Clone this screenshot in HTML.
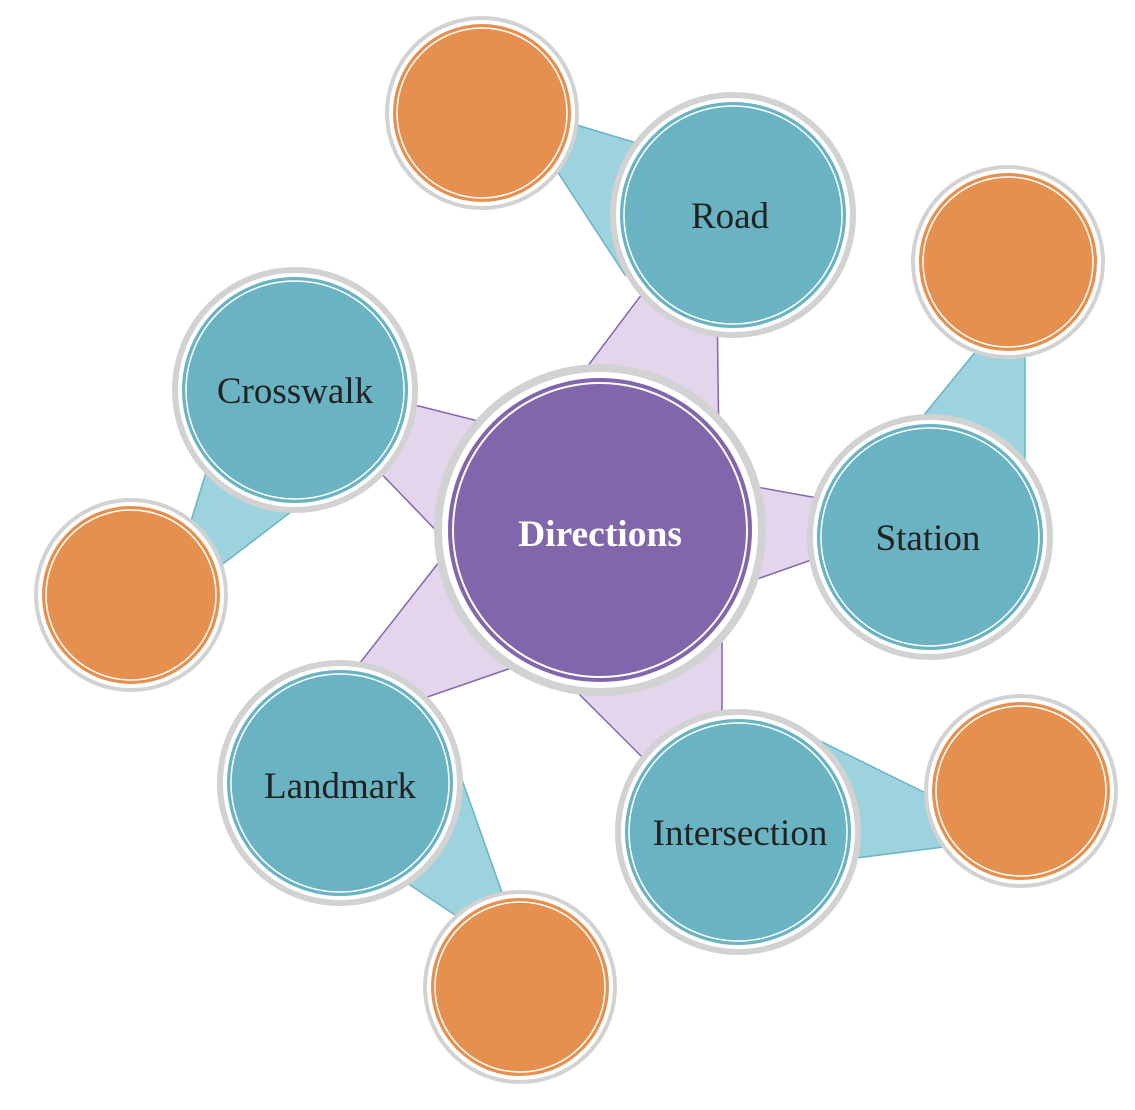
<!DOCTYPE html>
<html><head><meta charset="utf-8"><style>html,body{margin:0;padding:0;background:#fff;}svg{display:block}</style></head><body>
<svg width="1135" height="1110" viewBox="0 0 1135 1110" xmlns="http://www.w3.org/2000/svg">
<g fill="#e2d5ec" stroke="#8466ab" stroke-width="1.5">
<polygon points="660,270 717,300 719,450 560,403"/>
<polygon points="395,400 490,424 450,545 370,462"/>
<polygon points="740,484 840,502 840,550 740,585"/>
<polygon points="570,685 722,630 722,740 660,775"/>
<polygon points="345,682 450,548 520,665 410,703"/>
</g>
<g fill="#9dd3de" stroke="#69b3c2" stroke-width="1.5">
<polygon points="560,120 660,150 625,275 540,145"/>
<polygon points="915,426 985,340 1025,340 1025,480"/>
<polygon points="808,735 960,810 960,845 840,860"/>
<polygon points="455,760 510,915 470,925 395,875"/>
<polygon points="210,460 300,505 215,570 185,540"/>
</g>
<g>
<circle cx="600" cy="530" r="162" fill="#fff" stroke="#d2d2d2" stroke-width="8"/>
<circle cx="600" cy="530" r="152" fill="#8266ab"/>
<circle cx="600" cy="530" r="147" fill="none" stroke="#fff" stroke-width="2"/>
</g>
<g>
<g><circle cx="733" cy="215" r="120" fill="#fff" stroke="#d2d2d2" stroke-width="6"/><circle cx="733" cy="215" r="113" fill="#69b3c2"/><circle cx="733" cy="215" r="109" fill="none" stroke="#fff" stroke-width="1.5"/></g>
<g><circle cx="930" cy="537" r="120" fill="#fff" stroke="#d2d2d2" stroke-width="6"/><circle cx="930" cy="537" r="113" fill="#69b3c2"/><circle cx="930" cy="537" r="109" fill="none" stroke="#fff" stroke-width="1.5"/></g>
<g><circle cx="738" cy="832" r="120" fill="#fff" stroke="#d2d2d2" stroke-width="6"/><circle cx="738" cy="832" r="113" fill="#69b3c2"/><circle cx="738" cy="832" r="109" fill="none" stroke="#fff" stroke-width="1.5"/></g>
<g><circle cx="340" cy="783" r="120" fill="#fff" stroke="#d2d2d2" stroke-width="6"/><circle cx="340" cy="783" r="113" fill="#69b3c2"/><circle cx="340" cy="783" r="109" fill="none" stroke="#fff" stroke-width="1.5"/></g>
<g><circle cx="295" cy="390" r="120" fill="#fff" stroke="#d2d2d2" stroke-width="6"/><circle cx="295" cy="390" r="113" fill="#69b3c2"/><circle cx="295" cy="390" r="109" fill="none" stroke="#fff" stroke-width="1.5"/></g>
</g>
<g>
<g><circle cx="482" cy="113" r="95" fill="#fff" stroke="#d2d2d2" stroke-width="4"/><circle cx="482" cy="113" r="89" fill="#e6904f"/><circle cx="482" cy="113" r="85" fill="none" stroke="#fff" stroke-width="1.5"/></g>
<g><circle cx="1008" cy="262" r="95" fill="#fff" stroke="#d2d2d2" stroke-width="4"/><circle cx="1008" cy="262" r="89" fill="#e6904f"/><circle cx="1008" cy="262" r="85" fill="none" stroke="#fff" stroke-width="1.5"/></g>
<g><circle cx="1021" cy="791" r="95" fill="#fff" stroke="#d2d2d2" stroke-width="4"/><circle cx="1021" cy="791" r="89" fill="#e6904f"/><circle cx="1021" cy="791" r="85" fill="none" stroke="#fff" stroke-width="1.5"/></g>
<g><circle cx="520" cy="987" r="95" fill="#fff" stroke="#d2d2d2" stroke-width="4"/><circle cx="520" cy="987" r="89" fill="#e6904f"/><circle cx="520" cy="987" r="85" fill="none" stroke="#fff" stroke-width="1.5"/></g>
<g><circle cx="131" cy="595" r="95" fill="#fff" stroke="#d2d2d2" stroke-width="4"/><circle cx="131" cy="595" r="89" fill="#e6904f"/><circle cx="131" cy="595" r="85" fill="none" stroke="#fff" stroke-width="1.5"/></g>
</g>
<g font-family="Liberation Serif, serif" font-size="37" fill="#222" text-anchor="middle">
<text x="600" y="546" fill="#fff" font-weight="bold" font-size="37.5">Directions</text>
<text x="730" y="228">Road</text>
<text x="928" y="550">Station</text>
<text x="740" y="845">Intersection</text>
<text x="340" y="798">Landmark</text>
<text x="295" y="403">Crosswalk</text>
</g>
</svg>
</body></html>
